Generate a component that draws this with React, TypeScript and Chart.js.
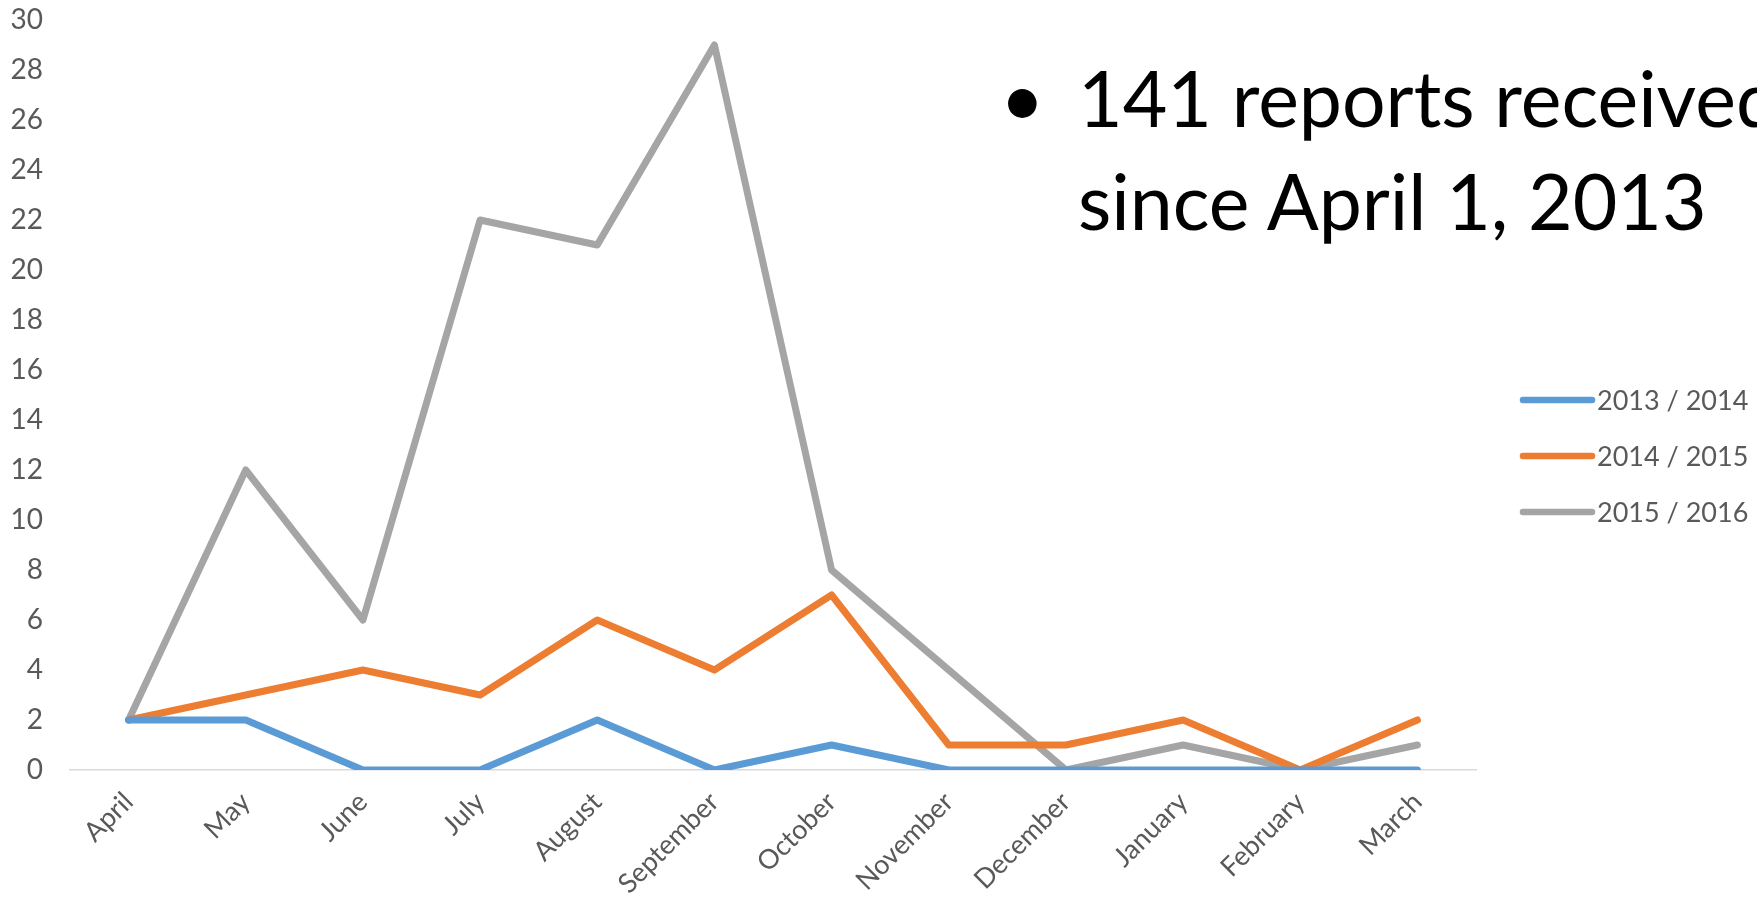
import React, { useEffect, useRef } from "react";
import { Chart, registerables } from "chart.js";

Chart.register(...registerables);

const months = [
  "April", "May", "June", "July", "August", "September",
  "October", "November", "December", "January", "February", "March",
];
const series1314 = [2, 2, 0, 0, 2, 0, 1, 0, 0, 0, 0, 0];
const series1415 = [2, 3, 4, 3, 6, 4, 7, 1, 1, 2, 0, 2];
const series1516 = [2, 12, 6, 22, 21, 29, 8, 4, 0, 1, 0, 1];
const seriesLabels = ["2013 / 2014", "2014 / 2015", "2015 / 2016"];
const seriesColors = ["#5B9BD5", "#ED7D31", "#A5A5A5"];
const yMin = 0;
const yMax = 30;
const yStep = 2;

const FONT = "Lato, 'Open Sans', sans-serif";
const TEXT_COLOR = "#595959";

const legendPlugin = {
  id: "sideLegend",
  afterDraw(chart: any) {
    const ctx = chart.ctx;
    const x0 = 1523;
    const x1 = 1592;
    const yStart = 400;
    const gap = 56;
    ctx.save();
    chart.data.datasets.forEach((ds: any, i: number) => {
      const y = yStart + i * gap;
      ctx.beginPath();
      ctx.strokeStyle = ds.borderColor;
      ctx.lineWidth = 6.5;
      ctx.lineCap = "round";
      ctx.moveTo(x0, y);
      ctx.lineTo(x1, y);
      ctx.stroke();
      ctx.fillStyle = TEXT_COLOR;
      ctx.font = `27px ${FONT}`;
      ctx.textBaseline = "middle";
      ctx.textAlign = "left";
      ctx.fillText(ds.label, x1 + 5, y + 1);
    });
    ctx.restore();
  },
};

export default function App() {
  const canvasRef = useRef<HTMLCanvasElement | null>(null);

  useEffect(() => {
    document.body.style.margin = "0";
    const canvas = canvasRef.current;
    if (!canvas) return;
    const datasets = [series1314, series1415, series1516].map((values, i) => ({
      label: seriesLabels[i],
      data: values,
      borderColor: seriesColors[i],
      backgroundColor: seriesColors[i],
      borderWidth: 7,
      pointRadius: 0,
      pointHoverRadius: 0,
      tension: 0,
      fill: false,
      borderJoinStyle: "round" as const,
      borderCapStyle: "round" as const,
    }));
    const chart = new Chart(canvas, {
      type: "line",
      data: { labels: months, datasets },
      plugins: [legendPlugin],
      options: {
        animation: false,
        responsive: true,
        maintainAspectRatio: false,
        layout: { padding: { left: 0, right: 281, top: 0, bottom: 0 } },
        plugins: {
          legend: { display: false },
          tooltip: { enabled: false },
        },
        scales: {
          x: {
            offset: true,
            grid: { display: false, drawTicks: false },
            border: { display: true, color: "#D9D9D9", width: 1.5 },
            ticks: {
              color: TEXT_COLOR,
              font: { family: FONT, size: 27 },
              maxRotation: 45,
              minRotation: 45,
              padding: 16,
              autoSkip: false,
            },
            afterFit: (scale: any) => {
              scale.height = 134;
            },
          },
          y: {
            min: yMin,
            max: yMax,
            grid: { display: false, drawTicks: false },
            border: { display: false },
            ticks: {
              stepSize: yStep,
              color: TEXT_COLOR,
              font: { family: FONT, size: 28 },
              padding: 27,
            },
            afterFit: (scale: any) => {
              scale.width = 70;
              scale.paddingTop = 20;
              scale.paddingBottom = 17;
            },
          },
        },
      },
    });
    return () => chart.destroy();
  }, []);

  return (
    <div
      style={{
        position: "fixed",
        left: 0,
        top: 0,
        width: 1757,
        height: 904,
        overflow: "hidden",
        background: "#ffffff",
      }}
    >
      <canvas ref={canvasRef} style={{ display: "block" }} />
      <div
        style={{
          position: "absolute",
          left: 1078,
          top: 46,
          fontFamily: FONT,
          fontSize: 77,
          lineHeight: "103px",
          color: "#000000",
          whiteSpace: "nowrap",
        }}
      >
        <span style={{ position: "absolute", left: -78 }}>•</span>
        141 reports received
        <br />
        since April 1, 2013
      </div>
    </div>
  );
}
